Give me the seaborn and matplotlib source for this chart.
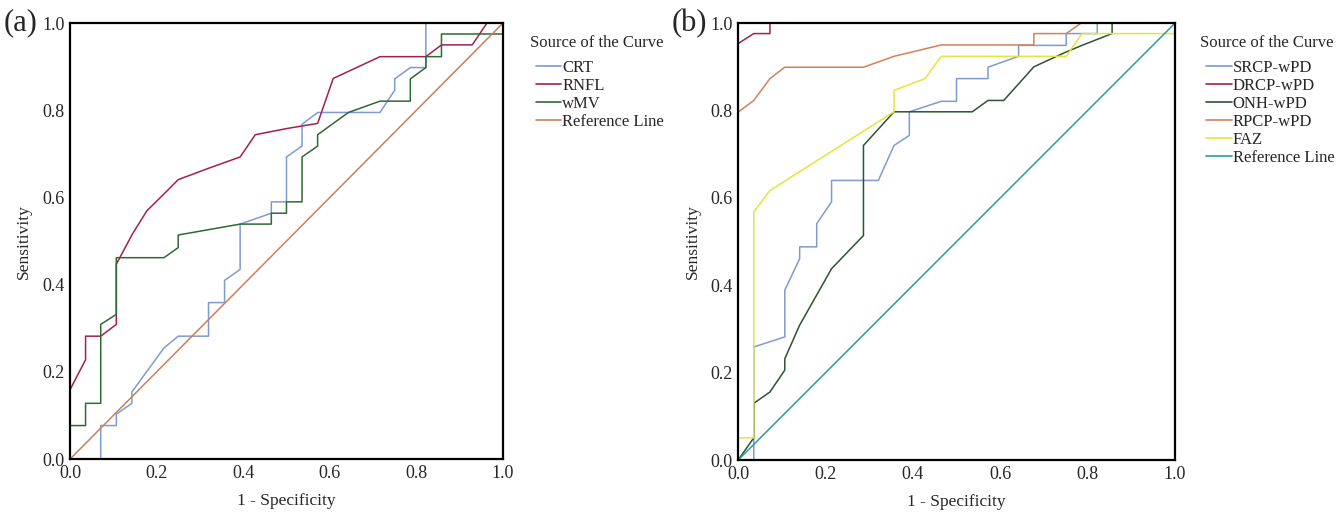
import numpy as np
import pandas as pd
import matplotlib
matplotlib.use("Agg")
import matplotlib.pyplot as plt
import seaborn as sns

# ---- panel (a) ROC curves ----
crt_x = [0.071, 0.071, 0.107, 0.107, 0.143, 0.143, 0.217, 0.25, 0.32, 0.32, 0.357, 0.357,
         0.393, 0.393, 0.465, 0.465, 0.5, 0.5, 0.536, 0.536, 0.572, 0.716, 0.75, 0.75,
         0.786, 0.822, 0.822, 1.0]
crt_y = [0.0, 0.077, 0.077, 0.103, 0.128, 0.154, 0.255, 0.282, 0.282, 0.359, 0.359, 0.41,
         0.435, 0.539, 0.564, 0.59, 0.59, 0.693, 0.718, 0.768, 0.795, 0.795, 0.846, 0.872,
         0.898, 0.898, 1.0, 1.0]
rnfl_x = [0.0, 0.036, 0.036, 0.071, 0.107, 0.107, 0.144, 0.178, 0.217, 0.25, 0.32, 0.393,
          0.428, 0.5, 0.572, 0.608, 0.716, 0.822, 0.858, 0.929, 0.963, 1.0]
rnfl_y = [0.159, 0.228, 0.282, 0.282, 0.309, 0.447, 0.516, 0.57, 0.608, 0.641, 0.667, 0.693,
          0.744, 0.758, 0.77, 0.873, 0.923, 0.923, 0.95, 0.95, 1.0, 1.0]
wmv_x = [0.0, 0.036, 0.036, 0.071, 0.071, 0.107, 0.107, 0.217, 0.25, 0.25, 0.393, 0.465,
         0.465, 0.5, 0.5, 0.536, 0.536, 0.572, 0.572, 0.643, 0.716, 0.786, 0.786, 0.822,
         0.822, 0.858, 0.858, 1.0]
wmv_y = [0.077, 0.077, 0.128, 0.128, 0.309, 0.332, 0.462, 0.462, 0.485, 0.514, 0.539, 0.539,
         0.564, 0.564, 0.59, 0.59, 0.693, 0.718, 0.744, 0.795, 0.821, 0.821, 0.872, 0.898,
         0.923, 0.923, 0.975, 0.975]

# ---- panel (b) ROC curves ----
srcp_x = [0.036, 0.036, 0.107, 0.107, 0.141, 0.141, 0.18, 0.18, 0.214, 0.214, 0.321, 0.357,
          0.392, 0.392, 0.465, 0.5, 0.5, 0.572, 0.572, 0.642, 0.642, 0.751, 0.751, 0.822,
          0.822, 1.0]
srcp_y = [0.0, 0.259, 0.282, 0.389, 0.461, 0.488, 0.488, 0.541, 0.591, 0.64, 0.64, 0.72,
          0.743, 0.797, 0.821, 0.821, 0.873, 0.873, 0.899, 0.924, 0.949, 0.949, 0.976, 0.976,
          1.0, 1.0]
drcp_x = [0.0, 0.036, 0.073, 0.073, 1.0]
drcp_y = [0.953, 0.976, 0.976, 1.0, 1.0]
onh_x = [0.0, 0.036, 0.036, 0.073, 0.107, 0.107, 0.141, 0.214, 0.287, 0.287, 0.357, 0.536,
         0.572, 0.608, 0.677, 0.751, 0.787, 0.856, 0.856, 1.0]
onh_y = [0.0, 0.051, 0.13, 0.156, 0.206, 0.232, 0.309, 0.438, 0.514, 0.72, 0.797, 0.797,
         0.823, 0.823, 0.9, 0.934, 0.949, 0.976, 1.0, 1.0]
rpcp_x = [0.0, 0.036, 0.073, 0.107, 0.287, 0.357, 0.465, 0.677, 0.677, 0.751, 0.785, 1.0]
rpcp_y = [0.796, 0.823, 0.873, 0.899, 0.899, 0.924, 0.95, 0.95, 0.976, 0.976, 1.0, 1.0]
faz_x = [0.0, 0.036, 0.036, 0.073, 0.248, 0.357, 0.357, 0.428, 0.465, 0.751, 0.787, 1.0]
faz_y = [0.051, 0.051, 0.568, 0.617, 0.728, 0.797, 0.846, 0.873, 0.924, 0.924, 0.976, 0.976]

ref_x = [0.0, 1.0]
ref_y = [0.0, 1.0]


def make_df(curves):
    frames = []
    for name, xs, ys in curves:
        frames.append(pd.DataFrame({"x": xs, "y": ys, "curve": name}))
    return pd.concat(frames, ignore_index=True)


df_a = make_df([("CRT", crt_x, crt_y), ("RNFL", rnfl_x, rnfl_y),
                ("wMV", wmv_x, wmv_y), ("Reference Line", ref_x, ref_y)])
df_b = make_df([("SRCP-wPD", srcp_x, srcp_y), ("DRCP-wPD", drcp_x, drcp_y),
                ("ONH-wPD", onh_x, onh_y), ("RPCP-wPD", rpcp_x, rpcp_y),
                ("FAZ", faz_x, faz_y), ("Reference Line", ref_x, ref_y)])

pal_a = {"CRT": "#7f9bd2", "RNFL": "#a3204e", "wMV": "#2f6a34",
         "Reference Line": "#c9805a"}
pal_b = {"SRCP-wPD": "#7f9bd2", "DRCP-wPD": "#a3204e", "ONH-wPD": "#2c5432",
         "RPCP-wPD": "#d0825a", "FAZ": "#e2e63a", "Reference Line": "#2f9c9c"}

sns.set_style("white")
plt.rcParams["font.family"] = ["Liberation Serif", "DejaVu Serif"]

fig = plt.figure(figsize=(13.38, 5.13), dpi=100)
ax_a = fig.add_axes([0.0523, 0.105, 0.3236, 0.850])
ax_b = fig.add_axes([0.5516, 0.103, 0.3266, 0.852])

for ax, df, pal, tag, lx in [(ax_a, df_a, pal_a, "(a)", 0.3958),
                             (ax_b, df_b, pal_b, "(b)", 0.8968)]:
    sns.lineplot(data=df, x="x", y="y", hue="curve", units="curve", estimator=None,
                 sort=False, palette=pal, linewidth=1.1, ax=ax, legend=False)
    ax.set_xlim(0, 1)
    ax.set_ylim(0, 1)
    ax.set_xticks(np.arange(0, 1.01, 0.2))
    ax.set_yticks(np.arange(0, 1.01, 0.2))
    ax.xaxis.set_major_formatter(matplotlib.ticker.FormatStrFormatter("%.1f"))
    ax.yaxis.set_major_formatter(matplotlib.ticker.FormatStrFormatter("%.1f"))
    ax.tick_params(length=0, labelsize=13, pad=4)
    for s in ax.spines.values():
        s.set_color("black")
        s.set_linewidth(1.6)
    ax.set_xlabel("1 - Specificity", fontsize=12.5, labelpad=8)
    ax.set_ylabel("Sensitivity", fontsize=12.5, labelpad=7)
    ax.text(-0.153, 1.0, tag, transform=ax.transAxes, fontsize=22,
            ha="left", va="center")

    # legend title drawn separately, slightly left of the handles
    fig.text(lx, 1 - 43 / 513, "Source of the Curve", fontsize=12,
             ha="left", va="center")
    handles = [plt.Line2D([], [], color=pal[k], linewidth=1.2) for k in pal]
    fig.legend(handles, list(pal.keys()),
               loc="upper left", bbox_to_anchor=(lx + 0.0045, 0.883), frameon=False,
               borderpad=0, borderaxespad=0,
               fontsize=12, handlelength=1.55,
               handletextpad=0.05, labelspacing=0.12)

fig.savefig("out.png", dpi=100)
